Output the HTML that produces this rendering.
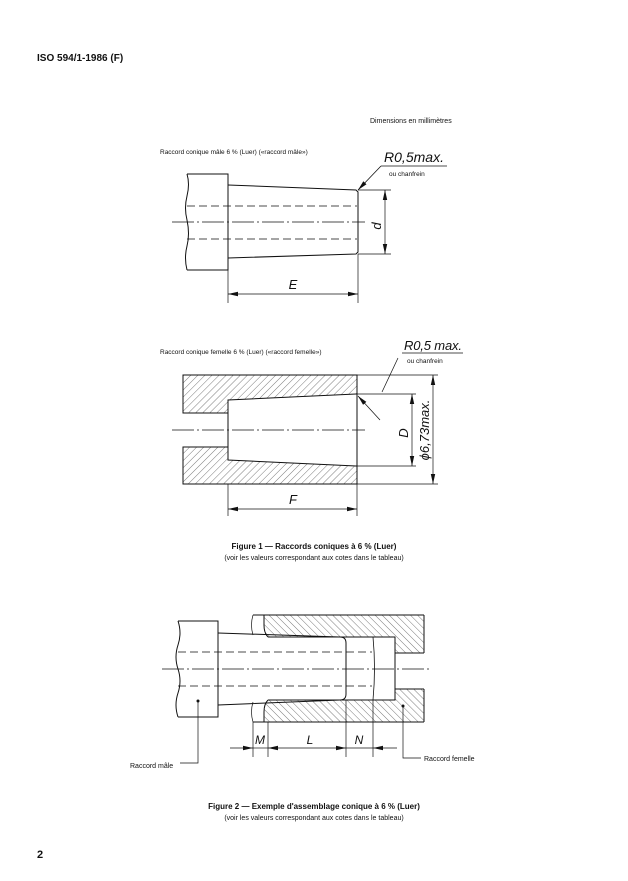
<!DOCTYPE html>
<html><head><meta charset="utf-8"><style>
html,body{margin:0;padding:0;background:#fff;}
svg{display:block;}
text{font-family:"Liberation Sans",sans-serif;fill:#111;}
</style></head><body>
<svg width="628" height="881" viewBox="0 0 628 881" xmlns="http://www.w3.org/2000/svg">
<defs>
<pattern id="h1" width="5" height="5" patternUnits="userSpaceOnUse" patternTransform="rotate(45)"><line x1="0" y1="0" x2="0" y2="5" stroke="#222" stroke-width="0.6"/></pattern>
<pattern id="h2" width="5" height="5" patternUnits="userSpaceOnUse" patternTransform="rotate(-45)"><line x1="0" y1="0" x2="0" y2="5" stroke="#222" stroke-width="0.6"/></pattern>
<marker id="a" markerWidth="10" markerHeight="6" refX="10" refY="3" orient="auto-start-reverse" markerUnits="userSpaceOnUse"><path d="M0,0.8 L10,3 L0,5.2z" fill="#111"/></marker>
</defs>
<text x="37" y="61" font-size="10" font-weight="bold">ISO 594/1-1986 (F)</text>
<text x="370" y="123" font-size="7">Dimensions en millimètres</text>

<!-- Fig 1 male -->
<text x="160" y="154" font-size="6.5">Raccord conique mâle 6 % (Luer) («raccord mâle»)</text>
<text x="384" y="162" font-size="14" font-style="italic" font-family="Liberation Sans Narrow,Liberation Sans,sans-serif" textLength="60">R0,5max.</text>
<line x1="381" y1="166" x2="447" y2="166" stroke="#111" stroke-width="0.8"/>
<text x="389" y="176" font-size="6.5">ou chanfrein</text>
<line x1="381" y1="166" x2="358" y2="190" stroke="#111" stroke-width="0.8" marker-end="url(#a)"/>
<g stroke="#111" fill="none" stroke-width="1">
<path d="M187,174 H228 V270 H187 M187,174 q3,10 0,22 q-3,12 0,24 q3,14 0,26 q-3,12 0,24"/>
<path d="M228,185 L356,190 L358,192 V252 L356,254 L228,258"/>
</g>
<g stroke="#111" stroke-width="0.7" fill="none">
<line x1="187" y1="206" x2="357" y2="206" stroke-dasharray="8,4"/>
<line x1="187" y1="239" x2="357" y2="239" stroke-dasharray="8,4"/>
<line x1="172" y1="222" x2="365" y2="222" stroke-dasharray="22,3,2,3"/>
<line x1="358" y1="190" x2="391" y2="190"/><line x1="358" y1="254" x2="391" y2="254"/>
<line x1="228" y1="270" x2="228" y2="303"/><line x1="358" y1="254" x2="358" y2="303"/>
<line x1="385" y1="190" x2="385" y2="254" marker-start="url(#a)" marker-end="url(#a)"/>
<line x1="228" y1="294" x2="358" y2="294" marker-start="url(#a)" marker-end="url(#a)"/>
</g>
<text x="0" y="0" font-size="13" font-style="italic" transform="translate(381,226) rotate(-90)" text-anchor="middle">d</text>
<text x="293" y="289" font-size="13" font-style="italic" text-anchor="middle">E</text>

<!-- Fig 1 female -->
<text x="160" y="354" font-size="6.5">Raccord conique femelle 6 % (Luer) («raccord femelle»)</text>
<text x="404" y="350" font-size="13" font-style="italic" textLength="58">R0,5 max.</text>
<line x1="402" y1="353" x2="463" y2="353" stroke="#111" stroke-width="0.8"/>
<text x="407" y="363" font-size="6.5">ou chanfrein</text>
<path d="M183,375 H357 V394 L356,394 L228,400 V413 H183z" fill="url(#h1)" stroke="#111"/>
<path d="M183,447 H228 V460 L356,466 H357 V484 H183z" fill="url(#h1)" stroke="#111"/>
<g stroke="#111" stroke-width="0.7" fill="none">
<line x1="357" y1="375" x2="357" y2="484" stroke-width="1"/>
<line x1="228" y1="400" x2="228" y2="460" stroke-width="1"/>
<line x1="172" y1="430" x2="365" y2="430" stroke-dasharray="22,3,2,3"/>
<line x1="398" y1="358" x2="382" y2="392"/>
<line x1="380" y1="420" x2="358" y2="396" marker-end="url(#a)"/>
<line x1="357" y1="375" x2="438" y2="375"/><line x1="357" y1="484" x2="438" y2="484"/>
<line x1="357" y1="394" x2="416" y2="394"/><line x1="357" y1="466" x2="416" y2="466"/>
<line x1="412" y1="394" x2="412" y2="466" marker-start="url(#a)" marker-end="url(#a)"/>
<line x1="433" y1="375" x2="433" y2="484" marker-start="url(#a)" marker-end="url(#a)"/>
<line x1="228" y1="484" x2="228" y2="516"/><line x1="357" y1="484" x2="357" y2="516"/>
<line x1="228" y1="509" x2="357" y2="509" marker-start="url(#a)" marker-end="url(#a)"/>
</g>
<text font-size="13" font-style="italic" transform="translate(408,433) rotate(-90)" text-anchor="middle">D</text>
<text font-size="13" font-style="italic" transform="translate(429,430) rotate(-90)" text-anchor="middle">ϕ6,73max.</text>
<text x="293" y="504" font-size="13" font-style="italic" text-anchor="middle">F</text>

<text x="314" y="549" font-size="8" font-weight="bold" text-anchor="middle">Figure 1 — Raccords coniques à 6 % (Luer)</text>
<text x="314" y="560" font-size="7" text-anchor="middle">(voir les valeurs correspondant aux cotes dans le tableau)</text>

<!-- Fig 2 -->
<path d="M268,615 H424 V653 H395 V637 L345,637 L268,637 q-4,-4 -4,-12 V615z" fill="url(#h2)" stroke="none"/>
<path d="M268,722 H424 V689 H395 V700 L268,700 q-4,4 -4,12 V722z" fill="url(#h2)" stroke="none"/>
<g stroke="#111" fill="none" stroke-width="1">
<line x1="253" y1="615" x2="424" y2="615"/><line x1="253" y1="722" x2="424" y2="722"/>
<line x1="424" y1="615" x2="424" y2="653"/><line x1="424" y1="689" x2="424" y2="722"/>
<path d="M268,637 H395 V700 H268"/>
<path d="M395,653 H424 M395,689 H424"/>
<path d="M268,637 q-4,-4 -4,-12 V615 M268,700 q-4,4 -4,12 V722"/>
<path d="M253,615 q-3,10 0,20 M253,722 q-3,-10 0,-20" stroke-width="0.7"/>
<path d="M178,621 H218 V717 H178 M178,621 q4,12 0,24 q-4,12 0,24 q4,12 0,24 q-4,12 0,24"/>
<path d="M218,633 L340,637 q6,0 6,6 V694 q0,6 -6,6 L218,705"/>
<path d="M373,637 q3,31 0,63" stroke-width="0.8"/>
</g>
<g stroke="#111" stroke-width="0.7" fill="none">
<line x1="178" y1="652" x2="372" y2="652" stroke-dasharray="8,4"/>
<line x1="178" y1="686" x2="372" y2="686" stroke-dasharray="8,4"/>
<line x1="162" y1="669" x2="432" y2="669" stroke-dasharray="22,3,2,3"/>
<line x1="253" y1="722" x2="253" y2="757"/><line x1="268" y1="722" x2="268" y2="757"/>
<line x1="346" y1="700" x2="346" y2="757"/><line x1="373" y1="700" x2="373" y2="757"/>
<line x1="230" y1="748" x2="253" y2="748" marker-end="url(#a)"/>
<line x1="268" y1="748" x2="346" y2="748" marker-start="url(#a)" marker-end="url(#a)"/>
<line x1="373" y1="748" x2="397" y2="748" marker-start="url(#a)"/>
<line x1="253" y1="748" x2="268" y2="748"/>
<line x1="346" y1="748" x2="373" y2="748"/>
<path d="M198,701 V763 H180"/>
<path d="M403,706 V758 H421"/>
</g>
<circle cx="198" cy="701" r="1.5" fill="#111"/><circle cx="403" cy="706" r="1.5" fill="#111"/>
<text x="260" y="744" font-size="12" font-style="italic" text-anchor="middle">M</text>
<text x="310" y="744" font-size="12" font-style="italic" text-anchor="middle">L</text>
<text x="359" y="744" font-size="12" font-style="italic" text-anchor="middle">N</text>
<text x="130" y="768" font-size="7">Raccord mâle</text>
<text x="424" y="761" font-size="7">Raccord femelle</text>

<text x="314" y="809" font-size="8" font-weight="bold" text-anchor="middle">Figure 2 — Exemple d'assemblage conique à 6 % (Luer)</text>
<text x="314" y="820" font-size="7" text-anchor="middle">(voir les valeurs correspondant aux cotes dans le tableau)</text>
<text x="37" y="858" font-size="11" font-weight="bold">2</text>
</svg>
</body></html>
